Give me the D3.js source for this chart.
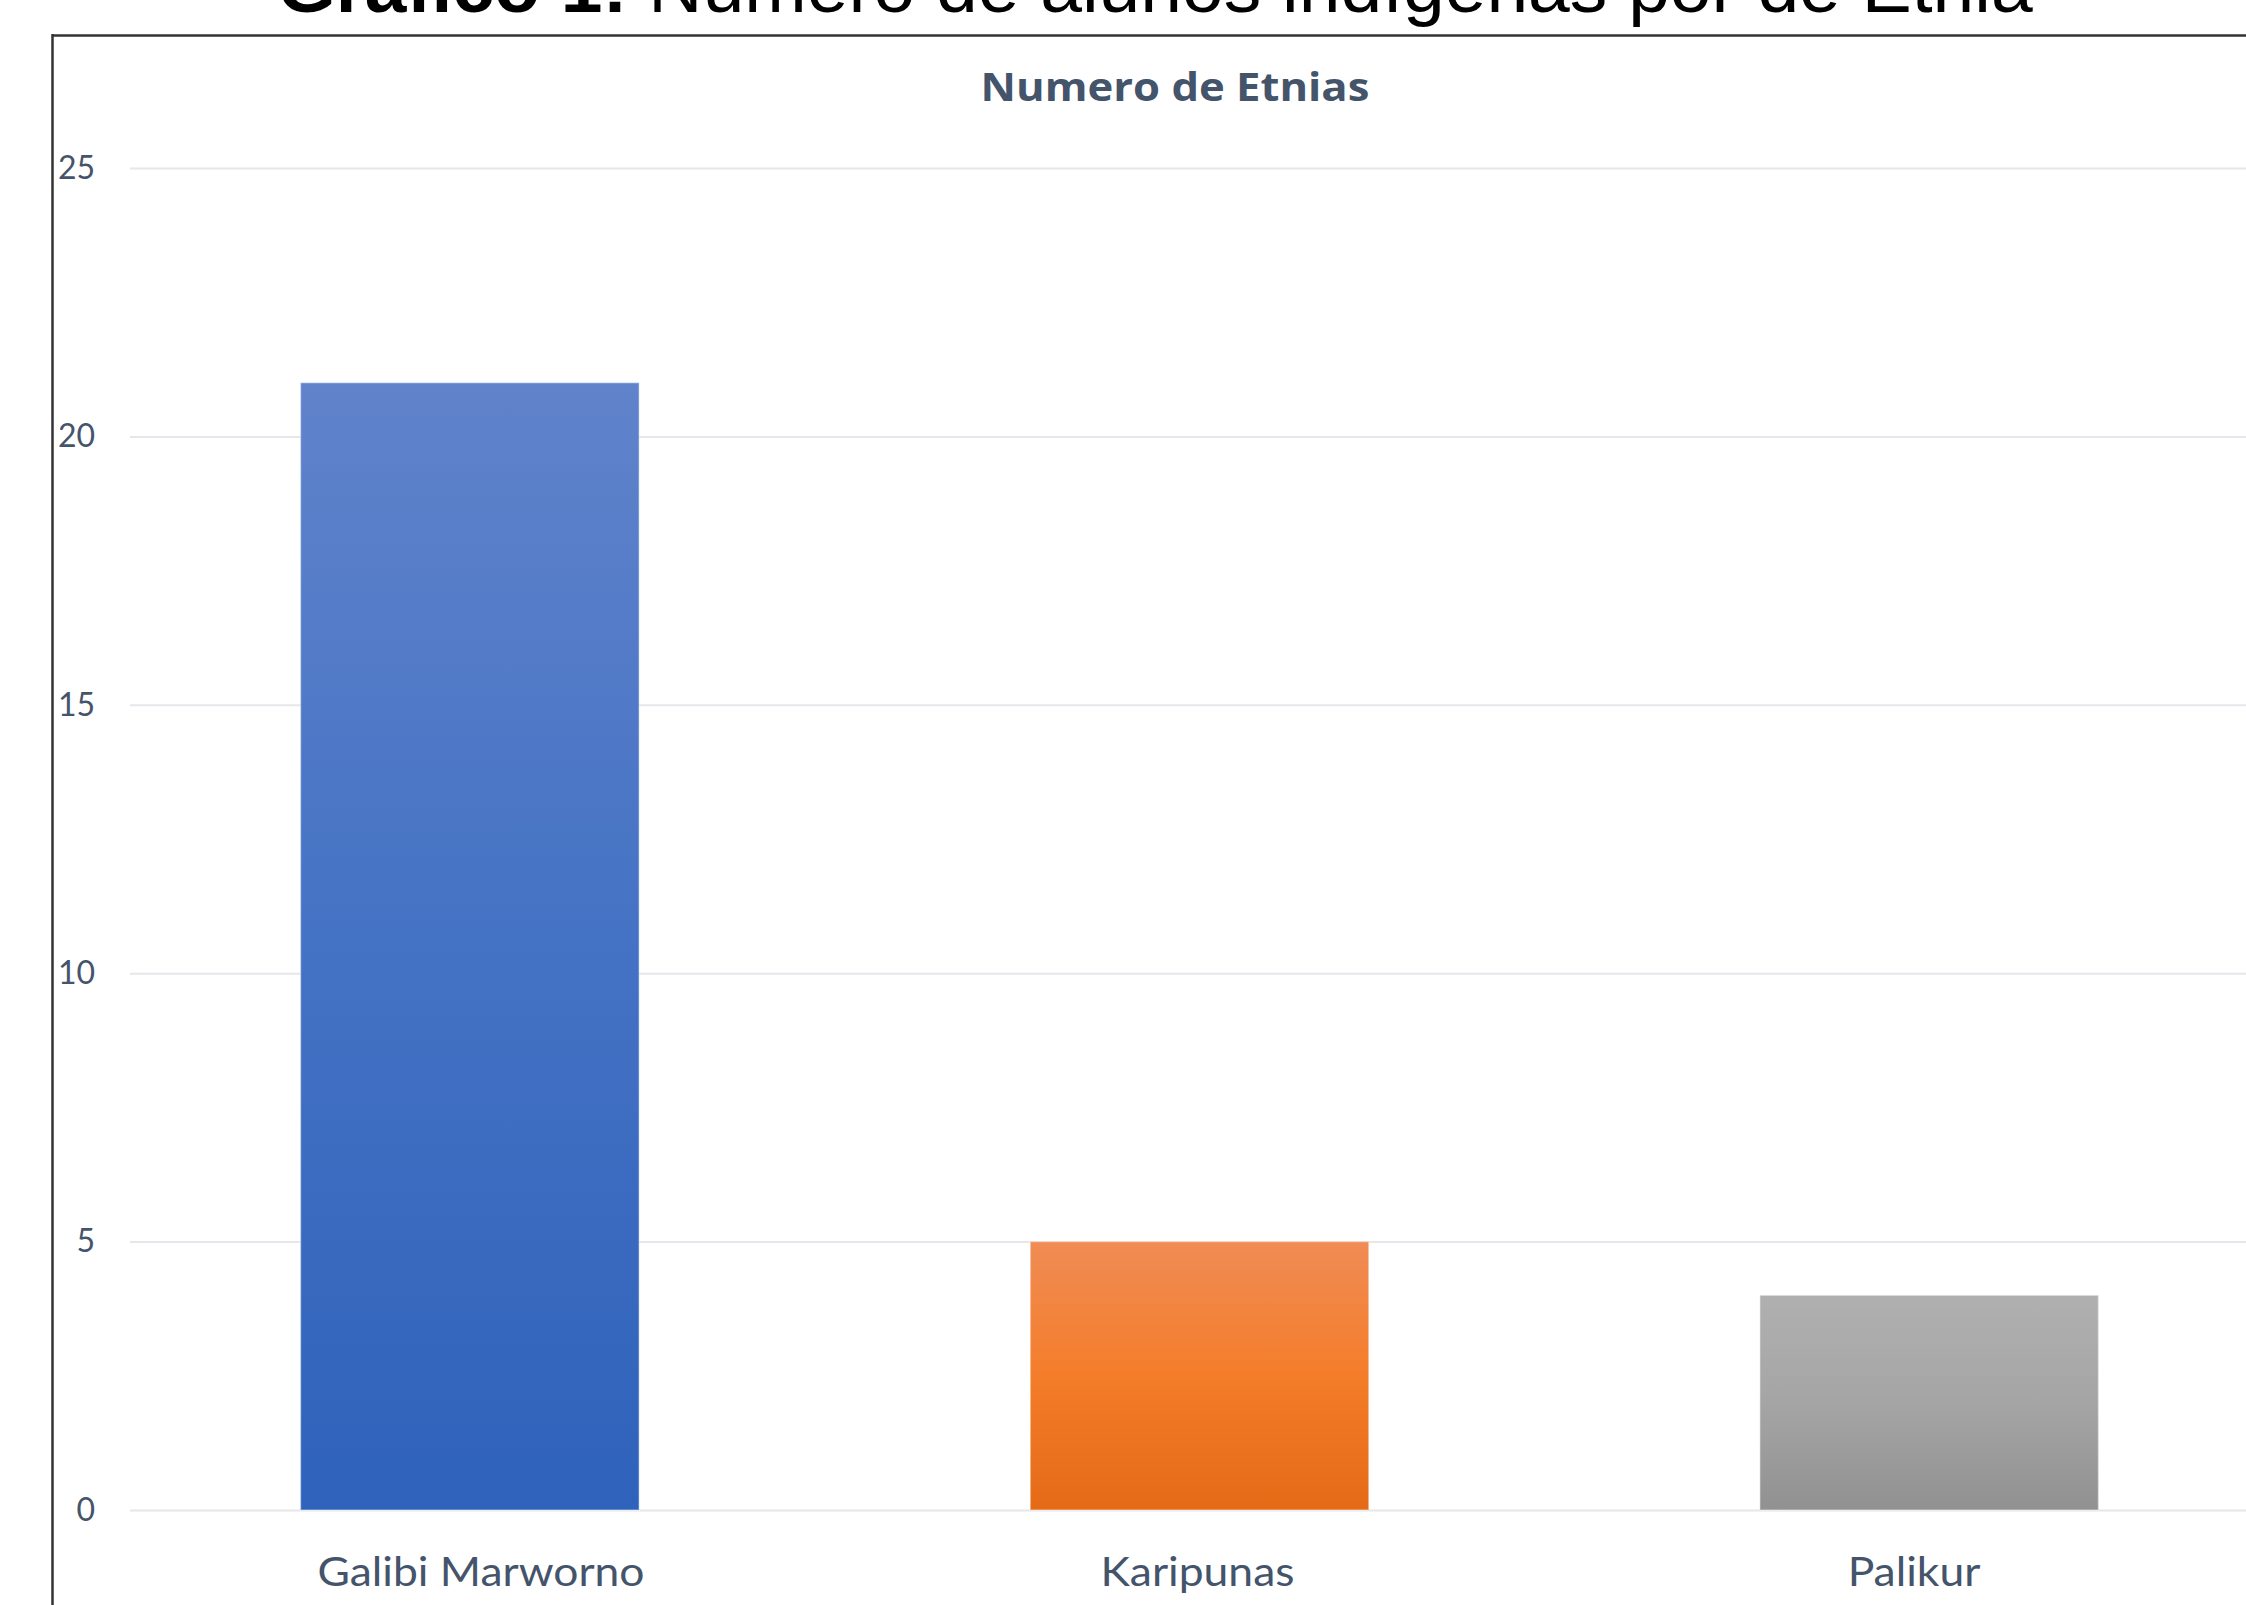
<!DOCTYPE html>
<html>
<head>
<meta charset="utf-8">
<script src="https://cdn.jsdelivr.net/npm/d3@7"></script>
<style>
  html, body { margin: 0; padding: 0; background: #ffffff; }
  svg { display: block; }
</style>
</head>
<body>
<script>
// ---- data ----
const categories = ["Galibi Marworno", "Karipunas", "Palikur"];
const values = [21, 5, 4];
const yTicks = [0, 5, 10, 15, 20, 25];
const pageTitleBold = "Gráfico 1:";
const pageTitleRest = " Número de alunos indígenas por de Etnia";
const chartTitle = "Numero de Etnias";
const barGradients = [
  ["#6083cb", "#4472c4", "#2f62bb"],
  ["#f08c55", "#f47d2a", "#e46a16"],
  ["#b0b0b0", "#a5a5a5", "#919191"]
];

// ---- layout ----
const W = 2246, H = 1605;
const svg = d3.select("body").append("svg").attr("width", W).attr("height", H);

const defs = svg.append("defs");
barGradients.forEach((stops, i) => {
  const g = defs.append("linearGradient").attr("id", "grad" + i)
    .attr("x1", 0).attr("y1", 0).attr("x2", 0).attr("y2", 1);
  stops.forEach((c, j) => g.append("stop")
    .attr("offset", (j / (stops.length - 1) * 100) + "%").attr("stop-color", c));
});

const x = d3.scaleBand().domain(categories).range([105, 2294])
  .paddingInner(0.536).paddingOuter(0.268);
const labelX = d3.scalePoint().domain(categories).range([481, 1914]);
const y = d3.scaleLinear().domain([0, 25]).range([1510, 168]);

// horizontal stretch helper (Calibri-like wide rendering of the reference)
function stretch(sel, factor) {
  sel.each(function () {
    const len = this.getComputedTextLength();
    d3.select(this).attr("textLength", len * factor).attr("lengthAdjust", "spacingAndGlyphs");
  });
}

// page title (cropped at top)
const pt = svg.append("text")
  .attr("x", 1155).attr("y", 12)
  .attr("text-anchor", "middle")
  .attr("font-family", "'Liberation Sans', Arial, sans-serif")
  .attr("font-size", 75).attr("fill", "#000");
pt.append("tspan").attr("font-weight", "bold").text(pageTitleBold);
pt.append("tspan").text(pageTitleRest);

// chart frame (left and top borders; right/bottom cropped)
svg.append("line").attr("x1", 52).attr("x2", W).attr("y1", 35.5).attr("y2", 35.5)
  .attr("stroke", "#333").attr("stroke-width", 2.5);
svg.append("line").attr("x1", 52.5).attr("x2", 52.5).attr("y1", 34).attr("y2", H)
  .attr("stroke", "#333").attr("stroke-width", 2.5);

// chart title
svg.append("text")
  .attr("x", 1175).attr("y", 101)
  .attr("text-anchor", "middle")
  .attr("font-family", "'Open Sans', Lato, sans-serif")
  .attr("font-weight", "bold")
  .attr("font-size", 40)
  .attr("fill", "#44546a")
  .text(chartTitle)
  .call(stretch, 1.09);

// gridlines
const yAxis = d3.axisLeft(y).tickValues(yTicks).tickSize(-(W - 130)).tickPadding(35);
const gy = svg.append("g").attr("transform", "translate(130,0)").call(yAxis);
gy.select(".domain").remove();
gy.selectAll(".tick line").attr("stroke", "#e6e6ec").attr("stroke-width", 2);
gy.selectAll(".tick text")
  .attr("font-family", "Lato, 'Open Sans', sans-serif")
  .attr("font-size", 32)
  .attr("fill", "#44546a");

// bars
svg.append("g").selectAll("rect").data(values).join("rect")
  .attr("x", (d, i) => x(categories[i]))
  .attr("width", x.bandwidth())
  .attr("y", d => y(d))
  .attr("height", d => y(0) - y(d))
  .attr("fill", (d, i) => "url(#grad" + i + ")")
  .attr("stroke", "#ffffff").attr("stroke-opacity", 0.35).attr("stroke-width", 1.5);

// category labels
svg.append("g").selectAll("text").data(categories).join("text")
  .attr("x", d => labelX(d))
  .attr("y", 1586)
  .attr("text-anchor", "middle")
  .attr("font-family", "Lato, 'Open Sans', sans-serif")
  .attr("font-size", 40)
  .attr("fill", "#44546a")
  .text(d => d)
  .call(stretch, 1.11);
</script>
</body>
</html>
